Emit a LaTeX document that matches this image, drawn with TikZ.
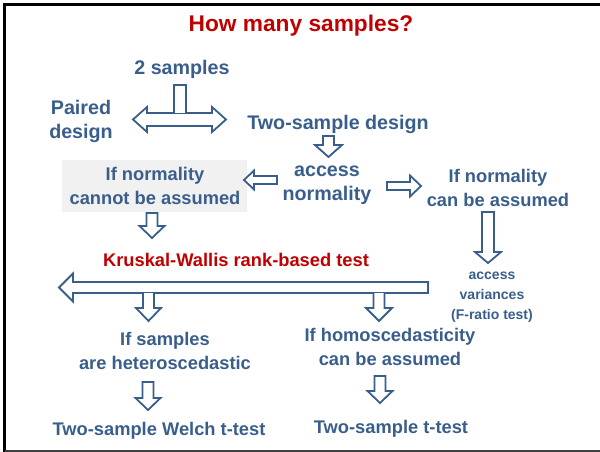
\documentclass[tikz,border=0pt]{standalone}
\usepackage{fontspec}
\setmainfont{Liberation Sans}
\definecolor{tblue}{RGB}{58,94,140}
\definecolor{tred}{RGB}{192,0,0}
\definecolor{boxgray}{RGB}{241,241,241}
\newcommand\blkdown[6]{% x, ytop, yhead, ytip, stem half, head half
  \draw[blk] (#1-#5,#2) -- (#1-#5,#3) -- (#1-#6,#3) -- (#1,#4) -- (#1+#6,#3) -- (#1+#5,#3) -- (#1+#5,#2) -- cycle;}
\begin{document}
\begin{tikzpicture}[x=1pt,y=-1pt,
  blk/.style={draw=tblue,line width=1.8pt,fill=white,line join=miter},
  btxt/.style={text=tblue,font=\bfseries\fontsize{18.3}{24}\selectfont,align=center,inner sep=0pt},
  bigtxt/.style={btxt,font=\bfseries\fontsize{19.7}{24}\selectfont},
  smtxt/.style={btxt,font=\bfseries\fontsize{14}{20}\selectfont},
  rtxt/.style={text=tred,font=\bfseries\fontsize{18.3}{24}\selectfont,inner sep=0pt}]
\useasboundingbox (0,0) rectangle (600,452);
% frame
\draw[black,line width=2.6pt] (4.5,452) -- (4.5,4.5) -- (605,4.5);
\draw[black!75,line width=2pt] (4.5,450.5) -- (605,450.5);
% title
\node[text=tred,font=\bfseries\fontsize{22.7}{26}\selectfont,inner sep=0pt] (title) at (301,26) {How many samples?};
\node[bigtxt] (two) at (182,69) {2 samples};
\node[bigtxt] (paired) at (81,121) {Paired\\design};
\node[bigtxt] (tsd) at (338,124) {Two-sample design};
% double arrow with stem
\draw[blk] (133,119.5) -- (147,107) -- (147,113) -- (212,113) -- (212,107) -- (226,119.5) -- (212,132) -- (212,126) -- (147,126) -- (147,132) -- cycle;
\draw[blk] (174,113) -- (174,85) -- (186,85) -- (186,113);
% down from two-sample design
\blkdown{328.5}{136}{145}{157}{5.5}{13.5}
\node[bigtxt] (acn) at (327,185.5) {access\\normality};
% gray box
\node[fill=boxgray,minimum width=185pt,minimum height=52pt,inner sep=0pt] (cbox) at (154.5,186) {};
\node[btxt] (cannot) at (155,185.5) {If normality\\cannot be assumed};
% left arrow
\draw[blk] (244,180) -- (254,170.5) -- (254,176) -- (277,176) -- (277,184) -- (254,184) -- (254,189.5) -- cycle;
% right arrow
\draw[blk] (421,186) -- (410,175.5) -- (410,182) -- (387,182) -- (387,190) -- (410,190) -- (410,196.5) -- cycle;
\node[btxt] (can) at (498,188) {If normality\\can be assumed};
% down from cannot box
\blkdown{152}{213}{226}{238}{5.5}{12.5}
\node[rtxt] (kw) at (236,260) {Kruskal-Wallis rank-based test};
% long down arrow right
\blkdown{488}{212}{252}{263}{6}{13}
\node[smtxt] (accvar) at (492,297) {access\\variances\\(F-ratio test)};
% long left arrow
\draw[blk] (59,287.5) -- (73,273.5) -- (73,282) -- (428,282) -- (428,293) -- (73,293) -- (73,301.5) -- cycle;
% small down arrows
\draw[blk] (143,293) -- (143,308) -- (136,308) -- (148.5,321) -- (161,308) -- (154,308) -- (154,293);
\draw[blk] (373.5,293) -- (373.5,308) -- (366,308) -- (379,321) -- (392,308) -- (384.5,308) -- (384.5,293);
\node[btxt] (het) at (165,350.5) {If samples\\are heteroscedastic};
\node[btxt] (hom) at (390,347) {If homoscedasticity\\can be assumed};
\blkdown{148}{382}{398}{410}{5.5}{12.5}
\blkdown{380}{376}{391}{403}{5.5}{12.5}
\node[btxt] (welch) at (159,430.5) {Two-sample Welch t-test};
\node[btxt] (ttest) at (391,428.5) {Two-sample t-test};
\end{tikzpicture}
\end{document}
